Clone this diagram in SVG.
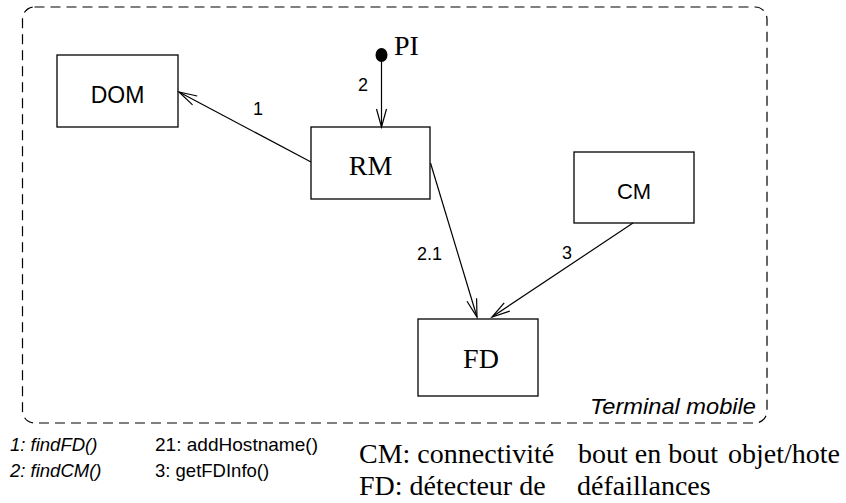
<svg xmlns="http://www.w3.org/2000/svg" width="846" height="503" viewBox="0 0 846 503">
<style>
.box{fill:#fff;stroke:#000;stroke-width:1.3}
.sans{font-family:"Liberation Sans",Arial,sans-serif;fill:#000}
.serif{font-family:"Liberation Serif","Times New Roman",serif;fill:#000}
.conn{fill:none;stroke:#000;stroke-width:1.2}
.lbl{font-family:"Liberation Sans",Arial,sans-serif;font-size:18px;fill:#000}
</style>
<defs>
<marker id="open" markerUnits="userSpaceOnUse" markerWidth="24" markerHeight="14" refX="20" refY="7" orient="auto" overflow="visible">
<path d="M2,2 L20,7 L2,12" fill="none" stroke="#000" stroke-width="1.2"/>
</marker>
</defs>
<rect id="terminal" x="22.5" y="7" width="744.5" height="416" rx="12" ry="12" fill="none" stroke="#000" stroke-width="1.2" stroke-dasharray="10 6"/>
<text class="sans" x="756" y="414" font-size="22" font-style="italic" text-anchor="end" textLength="166" lengthAdjust="spacingAndGlyphs">Terminal mobile</text>
<g id="DOM"><rect class="box" x="57" y="55" width="121" height="72"/><text class="sans" x="117.5" y="103" font-size="23" text-anchor="middle">DOM</text></g>
<g id="RM"><rect class="box" x="311" y="127" width="119" height="72"/><text class="serif" x="370.5" y="175" font-size="28" text-anchor="middle">RM</text></g>
<g id="CM"><rect class="box" x="574" y="152" width="120" height="71"/><text class="sans" x="634" y="199" font-size="22" text-anchor="middle">CM</text></g>
<g id="FD"><rect class="box" x="418" y="319" width="120" height="77"/><text class="serif" x="481" y="368" font-size="28" text-anchor="middle">FD</text></g>
<g id="PI"><ellipse cx="381.5" cy="55" rx="6" ry="7" fill="#000"/><text class="serif" x="394" y="55" font-size="28">PI</text></g>
<g id="connectors">
<line class="conn" x1="311" y1="162" x2="179" y2="92" marker-end="url(#open)"/>
<line class="conn" x1="381.5" y1="55" x2="381.5" y2="127" marker-end="url(#open)"/>
<line class="conn" x1="430.5" y1="163" x2="477" y2="317" marker-end="url(#open)"/>
<line class="conn" x1="633" y1="223" x2="492" y2="317" marker-end="url(#open)"/>
<text class="lbl" x="253" y="115">1</text>
<text class="lbl" x="358" y="91">2</text>
<text class="lbl" x="417" y="260">2.1</text>
<text class="lbl" x="562" y="259">3</text>
</g>
<g id="legend">
<text class="sans" x="10" y="451" font-size="18.5" font-style="italic">1: findFD()</text>
<text class="sans" x="10" y="477" font-size="18.5" font-style="italic">2: findCM()</text>
<text class="sans" x="155" y="451" font-size="18.5" textLength="163" lengthAdjust="spacingAndGlyphs">21: addHostname()</text>
<text class="sans" x="155" y="477" font-size="18.5">3: getFDInfo()</text>
<text class="serif" x="359" y="463" font-size="28">CM: connectivité</text>
<text class="serif" x="578" y="463" font-size="28">bout en bout</text>
<text class="serif" x="728" y="463" font-size="28">objet/hote</text>
<text class="serif" x="359" y="495" font-size="28">FD: détecteur de</text>
<text class="serif" x="577" y="495" font-size="28">défaillances</text>
</g>
</svg>
